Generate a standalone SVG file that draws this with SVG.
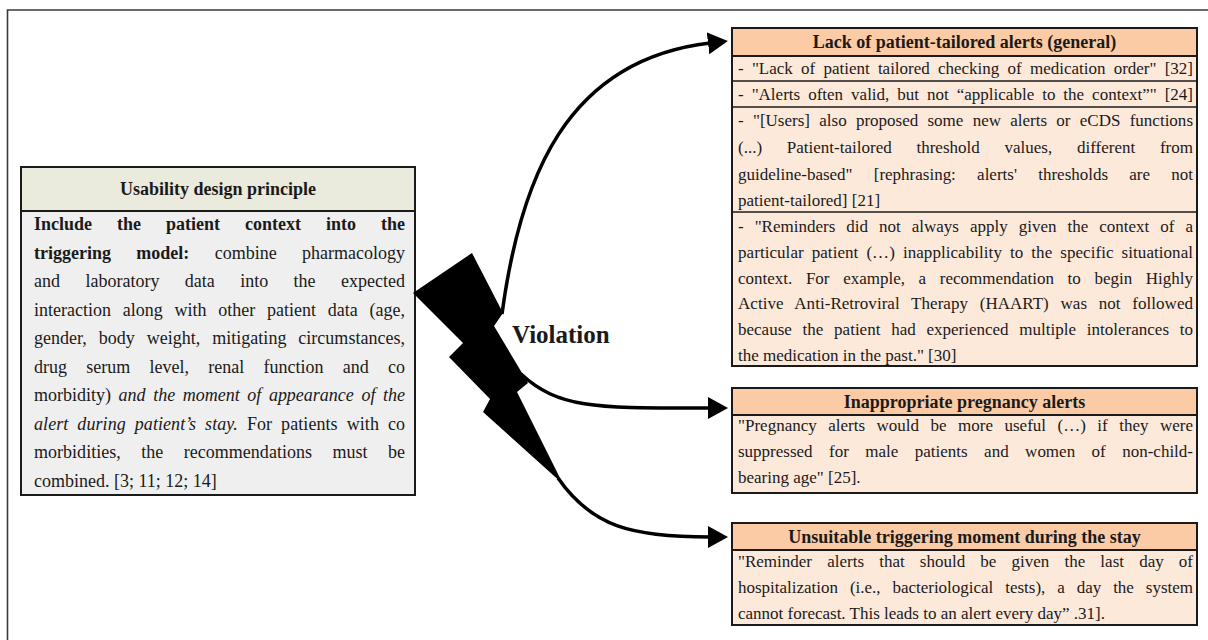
<svg xmlns="http://www.w3.org/2000/svg" width="1208" height="640" viewBox="0 0 1208 640">
<defs>
<style>
.t{font-family:"Liberation Serif","Times New Roman",serif;fill:#1a1a1a}
.lb{font-size:18px}
.rb{font-size:17px}
.hd{font-size:18px;font-weight:bold;text-anchor:middle}
.b{font-weight:bold}
.i{font-style:italic}
.box{stroke:#1a1a1a;stroke-width:2}
.div{stroke:#1a1a1a;stroke-width:1.6}
.ph{fill:#fbcba6}
.pb{fill:#fde9da}
.conn{fill:none;stroke:#000;stroke-width:3.5}
</style>
<marker id="ah" markerUnits="userSpaceOnUse" markerWidth="20" markerHeight="24" refX="2" refY="12" orient="auto">
<path d="M0,1 L20,12 L0,23 Z" fill="#000"/>
</marker>
</defs>
<rect width="1208" height="640" fill="#fff"/>
<g id="frame" fill="none" stroke="#3a3a3a" stroke-width="1.6">
<path d="M7.5,640 V10 H1208"/>
</g>

<g id="principle">
<rect x="21" y="167" width="394" height="44" fill="#eaeadd" class="box"/>
<rect x="21" y="211" width="394" height="284" fill="#efefef" class="box"/>
<text class="t hd" x="218" y="195">Usability design principle</text>
<text class="t lb b" x="34" y="230" word-spacing="20.5" textLength="371" lengthAdjust="spacing">Include the patient context into the</text>
<text class="t lb" x="34" y="258.5" word-spacing="20.9" textLength="371" lengthAdjust="spacing"><tspan class="b">triggering model:</tspan> combine pharmacology</text>
<text class="t lb" x="34" y="287" word-spacing="20.9" textLength="371" lengthAdjust="spacing">and laboratory data into the expected</text>
<text class="t lb" x="34" y="315.5" word-spacing="7.3" textLength="371" lengthAdjust="spacing">interaction along with other patient data (age,</text>
<text class="t lb" x="34" y="344" word-spacing="7.4" textLength="371" lengthAdjust="spacing">gender, body weight, mitigating circumstances,</text>
<text class="t lb" x="34" y="372.5" word-spacing="14.8" textLength="371" lengthAdjust="spacing">drug serum level, renal function and co</text>
<text class="t lb" x="34" y="401" word-spacing="3.1" textLength="371" lengthAdjust="spacing">morbidity) <tspan class="i">and the moment of appearance of the</tspan></text>
<text class="t lb" x="34" y="429.5" word-spacing="4.4" textLength="371" lengthAdjust="spacing"><tspan class="i">alert during patient’s stay.</tspan> For patients with co</text>
<text class="t lb" x="34" y="458" word-spacing="15.9" textLength="371" lengthAdjust="spacing">morbidities, the recommendations must be</text>
<text class="t lb" x="34" y="486.5">combined. [3; 11; 12; 14]</text>
</g>

<g id="violation">
<path d="M413,293 L472,253 L503,313 L494,326 L528,383 L517,392 L563,484 L483,412 L490,399 L449,357 L463,343 Z" fill="#000"/>
<text class="t b" x="512" y="343" font-size="25">Violation</text>
</g>

<g id="node-general">
<rect x="732" y="28" width="465" height="28" class="ph box"/>
<rect x="732" y="56" width="465" height="310" class="pb box"/>
<line x1="732" y1="81" x2="1197" y2="81" class="div"/>
<line x1="732" y1="107" x2="1197" y2="107" class="div"/>
<line x1="732" y1="212" x2="1197" y2="212" class="div"/>
<text class="t hd" x="964.5" y="48">Lack of patient-tailored alerts (general)</text>
<text class="t rb" x="738" y="74" word-spacing="4" textLength="455" lengthAdjust="spacing">- "Lack of patient tailored checking of medication order" [32]</text>
<text class="t rb" x="738" y="99.5" word-spacing="3.7" textLength="455" lengthAdjust="spacing">- "Alerts often valid, but not “applicable to the context”" [24]</text>
<text class="t rb" x="738" y="126" word-spacing="5" textLength="455" lengthAdjust="spacing">- "[Users] also proposed some new alerts or eCDS functions</text>
<text class="t rb" x="738" y="153" word-spacing="20.5" textLength="455" lengthAdjust="spacing">(...) Patient-tailored threshold values, different from</text>
<text class="t rb" x="738" y="179.5" word-spacing="17" textLength="455" lengthAdjust="spacing">guideline-based" [rephrasing: alerts' thresholds are not</text>
<text class="t rb" x="738" y="206">patient-tailored] [21]</text>
<text class="t rb" x="738" y="232" word-spacing="6.75" textLength="455" lengthAdjust="spacing">- "Reminders did not always apply given the context of a</text>
<text class="t rb" x="738" y="258" word-spacing="3.7" textLength="455" lengthAdjust="spacing">particular patient (…) inapplicability to the specific situational</text>
<text class="t rb" x="738" y="283.5" word-spacing="9.4" textLength="455" lengthAdjust="spacing">context. For example, a recommendation to begin Highly</text>
<text class="t rb" x="738" y="309" word-spacing="7.4" textLength="455" lengthAdjust="spacing">Active Anti-Retroviral Therapy (HAART) was not followed</text>
<text class="t rb" x="738" y="335" word-spacing="6.5" textLength="455" lengthAdjust="spacing">because the patient had experienced multiple intolerances to</text>
<text class="t rb" x="738" y="360.5">the medication in the past." [30]</text>
</g>

<g id="node-pregnancy">
<rect x="732" y="388" width="465" height="27" class="ph box"/>
<rect x="732" y="415" width="465" height="78" class="pb box"/>
<text class="t hd" x="964.5" y="408">Inappropriate pregnancy alerts</text>
<text class="t rb" x="738" y="431" word-spacing="7.2" textLength="455" lengthAdjust="spacing">"Pregnancy alerts would be more useful (…) if they were</text>
<text class="t rb" x="738" y="457" word-spacing="12.2" textLength="455" lengthAdjust="spacing">suppressed for male patients and women of non-child-</text>
<text class="t rb" x="738" y="483">bearing age" [25].</text>
</g>

<g id="node-moment">
<rect x="732" y="523" width="465" height="27" class="ph box"/>
<rect x="732" y="550" width="465" height="75" class="pb box"/>
<text class="t hd" x="964.5" y="543">Unsuitable triggering moment during the stay</text>
<text class="t rb" x="738" y="567" word-spacing="10.9" textLength="455" lengthAdjust="spacing">"Reminder alerts that should be given the last day of</text>
<text class="t rb" x="738" y="593" word-spacing="7.7" textLength="455" lengthAdjust="spacing">hospitalization (i.e., bacteriological tests), a day the system</text>
<text class="t rb" x="738" y="619">cannot forecast. This leads to an alert every day” .31].</text>
</g>

<g id="connectors">
<path class="conn" marker-end="url(#ah)" d="M502,314 C520,180 565,60 710,43"/>
<path class="conn" marker-end="url(#ah)" d="M521,374 C560,410 600,408 710,408"/>
<path class="conn" marker-end="url(#ah)" d="M558,478 C592,527 632,537 710,537"/>
</g>
</svg>
